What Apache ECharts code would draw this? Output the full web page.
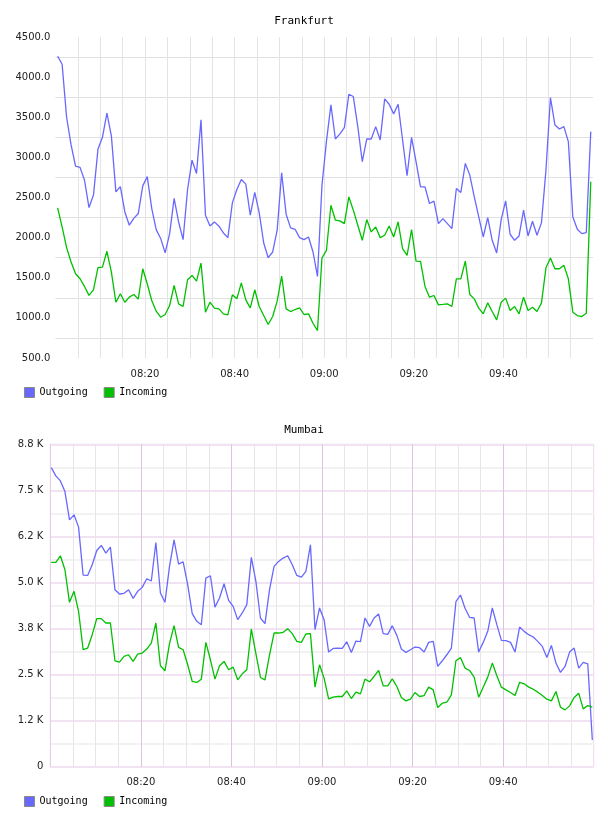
<!DOCTYPE html>
<html>
<head>
<meta charset="utf-8">
<title>Frankfurt / Mumbai traffic</title>
<script src="https://cdn.jsdelivr.net/npm/echarts@6/dist/echarts.min.js"></script>
<style>
  html, body { margin: 0; padding: 0; background: #fff; }
  #chart { width: 608px; height: 816px; }
</style>
</head>
<body>
<div id="chart"></div>
<script>
// minutes after 08:00 for the first sample, and the sample step (minutes)
const fraStart = 0.5, fraStep = 1.0;
const mumStart = 0.22, mumStep = 1.004;

// x ticks (minutes after 08:00) and their labels
const xTickValues = [20, 40, 60, 80, 100];
const xTickLabels = ['08:20', '08:40', '09:00', '09:20', '09:40'];

// Mumbai y tick labels (0 .. 8750 step 1250)
const mumYLabels = ['0', '1.2 K', '2.5 K', '3.8 K', '5.0 K', '6.2 K', '7.5 K', '8.8 K'];

const fraOutgoing = [
  4260, 4160, 3500, 3155, 2890, 2875, 2715, 2375, 2530, 3100,
  3250, 3550, 3265, 2570, 2635, 2320, 2155, 2240, 2300, 2645,
  2760, 2365, 2100, 1990, 1810, 2050, 2490, 2195, 1975, 2600,
  2965, 2800, 3467, 2279, 2146, 2196, 2142, 2058, 2000, 2433,
  2600, 2725, 2667, 2279, 2563, 2308, 1933, 1750, 1821, 2092,
  2808, 2292, 2121, 2104, 2000, 1975, 2008, 1821, 1517, 2650,
  3200, 3654, 3229, 3292, 3371, 3787, 3758, 3383, 2946, 3229,
  3229, 3383, 3217, 3729, 3662, 3542, 3662, 3217, 2771, 3250,
  2946, 2633, 2633, 2425, 2454, 2175, 2237, 2175, 2112, 2612,
  2562, 2925, 2779, 2508, 2258, 2008, 2250, 1967, 1808, 2225,
  2458, 2042, 1967, 2021, 2342, 2021, 2204, 2029, 2187, 2842,
  3746, 3404, 3354, 3383, 3196, 2258, 2104, 2050, 2062, 3321
];
const fraIncoming = [
  2370, 2133, 1875, 1696, 1550, 1487, 1392, 1280, 1350, 1625,
  1633, 1830, 1570, 1195, 1300, 1195, 1258, 1292, 1233, 1612,
  1425, 1217, 1083, 1008, 1042, 1154, 1404, 1175, 1142, 1475,
  1529, 1458, 1683, 1071, 1196, 1121, 1112, 1050, 1037, 1287,
  1237, 1437, 1225, 1125, 1350, 1142, 1029, 917, 1017, 1208,
  1521, 1112, 1079, 1104, 1125, 1042, 1050, 933, 842, 1746,
  1842, 2404, 2217, 2208, 2175, 2508, 2342, 2154, 1967, 2225,
  2071, 2133, 2000, 2029, 2146, 2008, 2196, 1862, 1779, 2100,
  1708, 1704, 1392, 1258, 1279, 1162, 1167, 1175, 1142, 1487,
  1487, 1708, 1292, 1237, 1121, 1050, 1187, 1079, 975, 1196,
  1246, 1092, 1142, 1050, 1258, 1092, 1133, 1079, 1187, 1625,
  1746, 1612, 1612, 1654, 1487, 1071, 1029, 1017, 1058, 2696
];
const mumOutgoing = [
  8118, 7892, 7757, 7468, 6700, 6836, 6502, 5201, 5192, 5481,
  5869, 6005, 5797, 5960, 4804, 4687, 4705, 4804, 4569, 4759,
  4867, 5102, 5039, 6086, 4714, 4461, 5436, 6158, 5499, 5562,
  4940, 4154, 3945, 3855, 5120, 5183, 4330, 4578, 4966, 4515,
  4352, 3991, 4172, 4399, 5680, 5030, 4036, 3882, 4804, 5436,
  5571, 5662, 5725, 5481, 5192, 5147, 5300, 6023, 3719, 4308,
  3991, 3111, 3211, 3220, 3211, 3392, 3102, 3410, 3392, 4036,
  3809, 4036, 4145, 3610, 3592, 3828, 3564, 3193, 3102, 3175,
  3247, 3229, 3111, 3374, 3401, 2721, 2875, 3038, 3220, 4478,
  4660, 4300, 4054, 4036, 3111, 3374, 3673, 4308, 3855, 3428,
  3419, 3374, 3111, 3791, 3673, 3583, 3519, 3401, 3265, 2966,
  3292, 2812, 2558, 2721, 3111, 3220, 2676, 2830, 2794, 726
];
const mumIncoming = [
  5544, 5544, 5725, 5346, 4461, 4759, 4218, 3175, 3220, 3583,
  4018, 4018, 3900, 3900, 2875, 2839, 2993, 3038, 2857, 3057,
  3084, 3193, 3356, 3900, 2739, 2603, 3338, 3828, 3238, 3175,
  2766, 2313, 2286, 2376, 3374, 2902, 2376, 2739, 2857, 2630,
  2703, 2358, 2521, 2630, 3737, 3066, 2422, 2358, 3038, 3628,
  3628, 3646, 3746, 3610, 3401, 3374, 3601, 3610, 2159, 2766,
  2404, 1841, 1887, 1905, 1905, 2059, 1850, 2023, 1977, 2376,
  2304, 2449, 2612, 2195, 2195, 2385, 2177, 1877, 1787, 1832,
  2014, 1905, 1932, 2159, 2086, 1605, 1723, 1750, 1950, 2875,
  2966, 2676, 2612, 2431, 1887, 2159, 2431, 2812, 2467, 2159,
  2086, 2014, 1932, 2286, 2249, 2159, 2104, 2023, 1932, 1832,
  1787, 2041, 1614, 1542, 1651, 1877, 1995, 1569, 1660, 1620
];

const BLUE = '#6868ff';
const GREEN = '#00c000';
const MONO = 'DejaVu Sans Mono';
const SANS = 'DejaVu Sans';

function toPoints(values, start, step) {
  return values.map((v, i) => [start + i * step, v]);
}

function timeLabel(v) {
  const idx = xTickValues.indexOf(v);
  return idx < 0 ? '' : xTickLabels[idx];
}

const chart = echarts.init(document.getElementById('chart'));

const axisLabelStyle = { fontFamily: SANS, fontSize: 10, color: '#222' };

chart.setOption({
  animation: false,
  backgroundColor: '#fff',
  title: [{
    text: 'Frankfurt',
    left: 'center',
    top: 16,
    padding: 0,
    textStyle: { fontFamily: MONO, fontSize: 11, fontWeight: 'normal', color: '#000' }
  }, {
    text: 'Mumbai',
    left: 'center',
    top: 425,
    padding: 0,
    textStyle: { fontFamily: MONO, fontSize: 11, fontWeight: 'normal', color: '#000' }
  }],
  legend: [{
    data: ['Outgoing', 'Incoming'],
    left: 24, top: 387,
    padding: 0,
    icon: 'rect',
    itemWidth: 10, itemHeight: 10, itemGap: 16,
    itemStyle: { borderColor: '#888', borderWidth: 1 },
    textStyle: { fontFamily: MONO, fontSize: 10, color: '#000' }
  }, {
    data: ['Outgoing', 'Incoming'],
    left: 24, top: 796,
    padding: 0,
    icon: 'rect',
    itemWidth: 10, itemHeight: 10, itemGap: 16,
    itemStyle: { borderColor: '#888', borderWidth: 1 },
    textStyle: { fontFamily: MONO, fontSize: 10, color: '#000' }
  }],
  grid: [
    { left: 55.4, top: 37, width: 537.6, height: 321 },
    { left: 50.3, top: 444.3, width: 543.4, height: 322.4,
      show: true, borderColor: '#ead8ea', borderWidth: 1, backgroundColor: 'transparent' }
  ],
  xAxis: [{
    type: 'value', gridIndex: 0, min: 0, max: 120, interval: 20,
    axisLine: { show: false }, axisTick: { show: false },
    axisLabel: Object.assign({ formatter: timeLabel, margin: 11 }, axisLabelStyle),
    splitLine: { show: true, showMinLine: false, showMaxLine: false, lineStyle: { color: '#e4e4e4' } },
    minorTick: { show: false, splitNumber: 4 },
    minorSplitLine: { show: true, lineStyle: { color: '#e4e4e4' } }
  }, {
    type: 'value', gridIndex: 1, min: 0, max: 120, interval: 20,
    axisLine: { show: false }, axisTick: { show: false },
    axisLabel: Object.assign({ formatter: timeLabel, margin: 11 }, axisLabelStyle),
    splitLine: { show: true, showMinLine: false, showMaxLine: false, lineStyle: { color: '#dcc4dc' } },
    minorTick: { show: false, splitNumber: 4 },
    minorSplitLine: { show: true, lineStyle: { color: '#e8e4e8' } }
  }],
  yAxis: [{
    type: 'value', gridIndex: 0, min: 500, max: 4500, interval: 500,
    axisLine: { show: false }, axisTick: { show: false },
    axisLabel: Object.assign({ formatter: v => v.toFixed(1), margin: 5 }, axisLabelStyle),
    splitLine: { show: false },
    minorTick: { show: false, splitNumber: 2 },
    minorSplitLine: { show: true, lineStyle: { color: '#e0e0e0' } }
  }, {
    type: 'value', gridIndex: 1, min: 0, max: 8750, interval: 1250,
    axisLine: { show: true, lineStyle: { color: '#e4d0e4' } }, axisTick: { show: false },
    axisLabel: Object.assign({ formatter: v => mumYLabels[Math.round(v / 1250)], margin: 7 }, axisLabelStyle),
    splitLine: { show: true, lineStyle: { color: '#f1e3f1', width: 2 } },
    minorTick: { show: false, splitNumber: 2 },
    minorSplitLine: { show: true, lineStyle: { color: '#f2f2f2', width: 2 } }
  }],
  series: [{
    name: 'Outgoing', type: 'line', xAxisIndex: 0, yAxisIndex: 0,
    data: toPoints(fraOutgoing, fraStart, fraStep),
    showSymbol: false, color: BLUE, lineStyle: { width: 1.3, color: BLUE }
  }, {
    name: 'Incoming', type: 'line', xAxisIndex: 0, yAxisIndex: 0,
    data: toPoints(fraIncoming, fraStart, fraStep),
    showSymbol: false, color: GREEN, lineStyle: { width: 1.3, color: GREEN }
  }, {
    name: 'Outgoing', type: 'line', xAxisIndex: 1, yAxisIndex: 1,
    data: toPoints(mumOutgoing, mumStart, mumStep),
    showSymbol: false, color: BLUE, lineStyle: { width: 1.3, color: BLUE }
  }, {
    name: 'Incoming', type: 'line', xAxisIndex: 1, yAxisIndex: 1,
    data: toPoints(mumIncoming, mumStart, mumStep),
    showSymbol: false, color: GREEN, lineStyle: { width: 1.3, color: GREEN }
  }]
});
</script>
</body>
</html>
